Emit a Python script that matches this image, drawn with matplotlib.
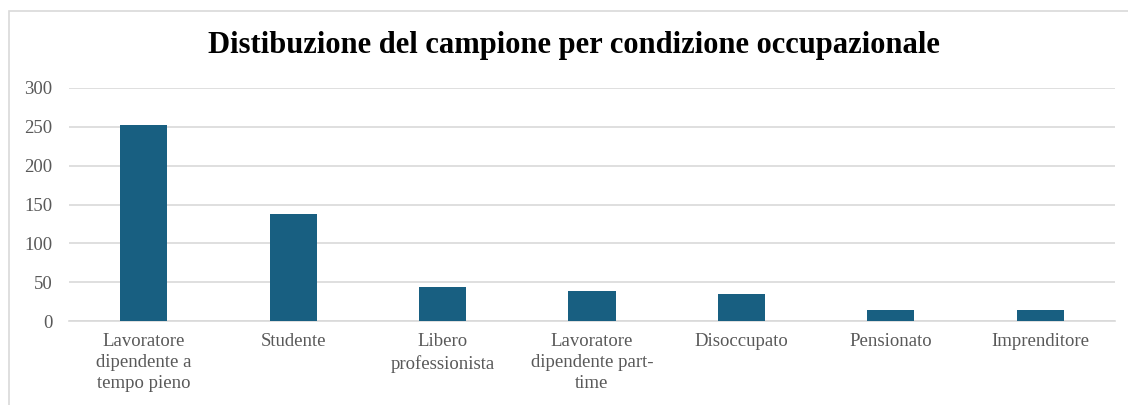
import numpy as np
import matplotlib.pyplot as plt
from matplotlib.patches import Rectangle

categories = ['Lavoratore\ndipendente a\ntempo pieno', 'Studente', 'Libero\nprofessionista',
              'Lavoratore\ndipendente part-\ntime', 'Disoccupato', 'Pensionato', 'Imprenditore']
counts = [252, 138, 44, 38, 35, 14, 14]
yticks = [0, 50, 100, 150, 200, 250, 300]

plt.rcParams['font.family'] = ['Liberation Serif', 'DejaVu Serif']

fig = plt.figure(figsize=(11.28, 4.05), dpi=100)
W, H = 1128, 405

# chart frame
fig.patches.append(Rectangle((9 / W, -0.1), 1.2, 1.1 - 11 / H, transform=fig.transFigure,
                             fill=False, edgecolor='#D9D9D9', linewidth=1.2))

ax = fig.add_axes([69 / W, (H - 321) / H, (1115 - 69) / W, (321 - 88) / H])
x = np.arange(len(categories))
ax.bar(x, counts, width=0.315, color='#185F81', zorder=3)

ax.set_xlim(-0.5, len(categories) - 0.5)
ax.set_ylim(0, 300)
ax.set_yticks(yticks)
ax.yaxis.grid(True, color='#D9D9D9', linewidth=1.2, zorder=0)
ax.set_xticks(x)
ax.set_xticklabels(categories, fontsize=13.5, color='#595959', linespacing=1.3)
ax.tick_params(axis='y', labelsize=13.5, labelcolor='#595959', length=0, pad=12)
ax.tick_params(axis='x', length=0, pad=9)
for s in ['top', 'right', 'left']:
    ax.spines[s].set_visible(False)
ax.spines['bottom'].set_color('#D9D9D9')
ax.spines['bottom'].set_linewidth(1.2)

fig.text(574 / W, 1 - 45 / H, 'Distibuzione del campione per condizione occupazionale',
         ha='center', va='center', fontsize=22, fontweight='bold')

fig.savefig('out.png', dpi=100)
